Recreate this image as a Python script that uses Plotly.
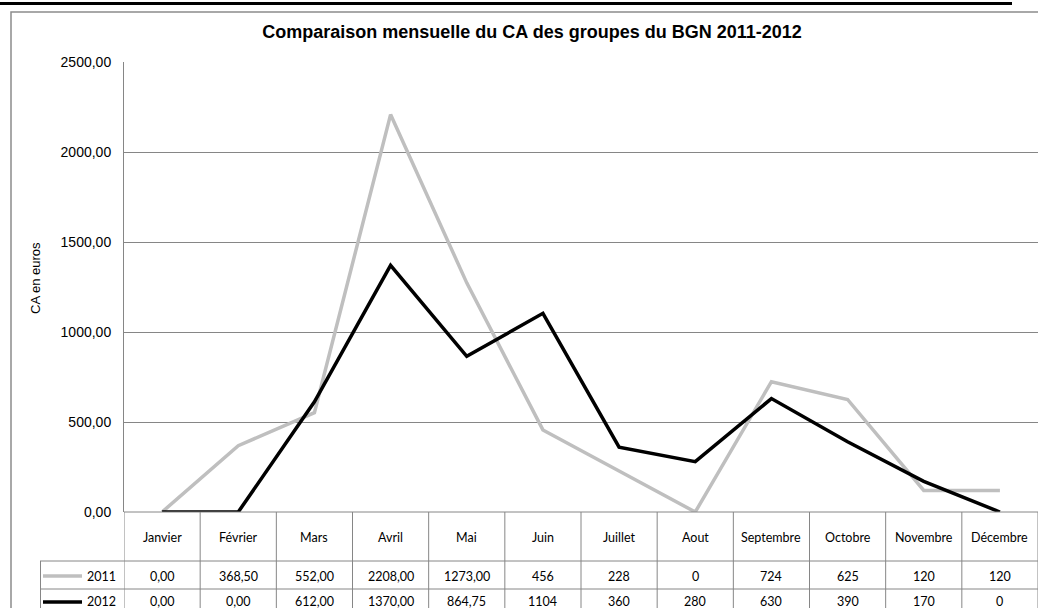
import plotly.graph_objects as go

months = ["Janvier", "Février", "Mars", "Avril", "Mai", "Juin", "Juillet",
          "Aout", "Septembre", "Octobre", "Novembre", "Décembre"]
ca_2011 = [0.00, 368.50, 552.00, 2208.00, 1273.00, 456, 228, 0, 724, 625, 120, 120]
ca_2012 = [0.00, 0.00, 612.00, 1370.00, 864.75, 1104, 360, 280, 630, 390, 170, 0]
labels_2011 = ["0,00", "368,50", "552,00", "2208,00", "1273,00", "456", "228", "0", "724", "625", "120", "120"]
labels_2012 = ["0,00", "0,00", "612,00", "1370,00", "864,75", "1104", "360", "280", "630", "390", "170", "0"]
series_names = ["2011", "2012"]
series_colors = ["#BFBFBF", "#000000"]

W, H = 1038, 608
L, R, T, B = 124, 0, 62, 96
pw, ph = W - L - R, H - T - B

def py(p):  # pixel y -> paper y
    return (H - B - p) / ph

def px(p):  # pixel x -> paper x
    return (p - L) / pw

xs = list(range(len(months)))
fig = go.Figure()
for name, vals, col in zip(series_names, [ca_2011, ca_2012], series_colors):
    fig.add_trace(go.Scatter(x=xs, y=vals, mode="lines", name=name,
                             line=dict(color=col, width=3.5), showlegend=False,
                             cliponaxis=False, hoverinfo="skip"))

grid = "#868686"
shapes = []
# top black bar
shapes.append(dict(type="rect", xref="paper", yref="paper", x0=px(0), x1=px(1012),
                   y0=py(5), y1=py(2), fillcolor="black", line=dict(width=0), layer="above"))
# outer frame
shapes.append(dict(type="rect", xref="paper", yref="paper", x0=px(11), x1=px(1045),
                   y0=py(620), y1=py(12), line=dict(color="#8C8C8C", width=1.5), fillcolor="rgba(0,0,0,0)"))
# table rows
y_head, y_r1, y_r2, y_end = 512, 561, 589, 618
for yy, x0 in [(y_head, L), (y_r1, 40), (y_r2, 40)]:
    shapes.append(dict(type="line", xref="paper", yref="paper", x0=px(x0), x1=1.0,
                       y0=py(yy), y1=py(yy), line=dict(color=grid, width=1)))
# column boundaries
for i in range(len(months) + 1):
    shapes.append(dict(type="line", xref="x", yref="paper", x0=i - 0.5, x1=i - 0.5,
                       y0=py(y_head), y1=py(y_end), line=dict(color=grid, width=1)))
# legend column left border
shapes.append(dict(type="line", xref="paper", yref="paper", x0=px(40.5), x1=px(40.5),
                   y0=py(y_r1), y1=py(y_end), line=dict(color=grid, width=1)))
# legend keys
for k, (col, yy) in enumerate(zip(series_colors, [576, 602])):
    shapes.append(dict(type="line", xref="paper", yref="paper", x0=px(43), x1=px(82),
                       y0=py(yy), y1=py(yy), line=dict(color=col, width=3.5)))

annos = []
tfont = dict(family="Lato, Carlito, sans-serif", size=12.5, color="#000000")
for i, m in enumerate(months):
    annos.append(dict(x=i, y=py(537), xref="x", yref="paper", text=m, showarrow=False,
                      font=tfont, xanchor="center", yanchor="middle"))
    annos.append(dict(x=i, y=py(576), xref="x", yref="paper", text=labels_2011[i], showarrow=False,
                      font=tfont, xanchor="center", yanchor="middle"))
    annos.append(dict(x=i, y=py(601), xref="x", yref="paper", text=labels_2012[i], showarrow=False,
                      font=tfont, xanchor="center", yanchor="middle"))
for name, yy in zip(series_names, [576, 601]):
    annos.append(dict(x=px(101), y=py(yy), xref="paper", yref="paper", text=name, showarrow=False,
                      font=tfont, xanchor="center", yanchor="middle"))
annos.append(dict(x=px(35), y=py(278), xref="paper", yref="paper", text="CA en euros",
                  textangle=-90, showarrow=False,
                  font=dict(family="Liberation Sans, Arial", size=13, color="#000"),
                  xanchor="center", yanchor="middle"))

fig.update_layout(
    width=W, height=H, autosize=False,
    margin=dict(l=L, r=R, t=T, b=B, pad=0),
    paper_bgcolor="white", plot_bgcolor="white",
    separators=", ",
    title=dict(text="<b>Comparaison mensuelle du CA des groupes du BGN 2011-2012</b>",
               xref="container", x=532 / W, xanchor="center", y=1 - 32 / H, yanchor="middle",
               font=dict(family="Liberation Sans, Arial", size=18, color="#000")),
    xaxis=dict(range=[-0.5, len(months) - 0.5], showgrid=False, showticklabels=False,
               zeroline=False, showline=False, ticks="", fixedrange=True),
    yaxis=dict(range=[0, 2500], dtick=500, tickformat=".2f", showgrid=True,
               gridcolor=grid, gridwidth=1, zeroline=False, showline=True,
               linecolor=grid, linewidth=1, ticks="", ticklabelstandoff=9,
               tickfont=dict(family="Liberation Sans, Arial", size=14, color="#000")),
    shapes=shapes, annotations=annos,
)
fig.write_html("out.html", config={"displayModeBar": False},
               post_script="document.body.style.margin='0';document.body.style.overflow='hidden';")
